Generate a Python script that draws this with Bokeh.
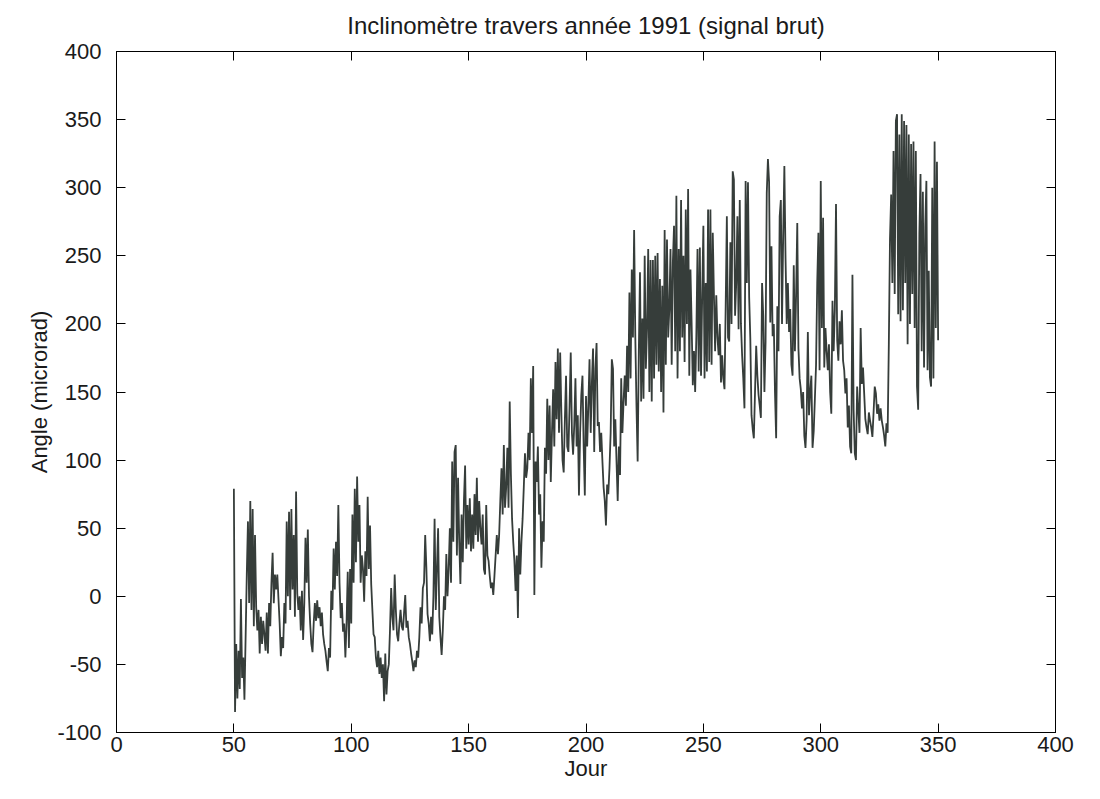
import numpy as np
from bokeh.plotting import figure
from bokeh.models import LinearAxis, FixedTicker, ColumnDataSource, Range1d, PrintfTickFormatter
from bokeh.embed import file_html
from bokeh.resources import INLINE

title_text = "Inclinomètre travers année 1991 (signal brut)"
x_label = "Jour"
y_label = "Angle (microrad)"
x_ticks = [0, 50, 100, 150, 200, 250, 300, 350, 400]
y_ticks = [-100, -50, 0, 50, 100, 150, 200, 250, 300, 350, 400]

# samples every half day, starting at day 50
day_start = 50.0
day_step = 0.5
angle = [
    79, -85, -35, -75, -40, -68, -2, -60, -45, -76,          # 50
    -30, 16, 55, -5, 70, -10, 64, -22, 45, -8,               # 55
    -25, -10, -42, -15, -35, -18, -28, -40, -12, -42,        # 60
    -5, -22, 10, 32, -5, 16, 5, 16, -2, -20,                 # 65
    -44, -30, -38, -5, -20, 55, 0, 62, -10, 64,              # 70
    5, 45, -15, 77, 2, -10, 0, -25, 4, -32,                  # 75
    -5, 43, 10, 49, 0, -20, -35, -41, -20, -5,               # 80
    -18, -3, -16, -8, -22, -12, -28, -35, -40, -48,          # 85
    -55, -38, -45, 4, -10, 35, 5, 40, 15, 67,                # 90
    10, -16, -5, -26, -20, -45, -20, 18, -38, 20,            # 95
    -20, 60, 10, 79, 25, 88, 40, 67, 10, 30,                 # 100
    20, -4, 33, 15, 73, 20, 52, 9, -10, -28,                 # 105
    -30, -45, -52, -40, -57, -45, -60, -50, -77, -42,        # 110
    -72, -55, -50, -25, 6, -15, -25, 16, -10, -28,           # 115
    -33, -20, -10, -22, -25, -12, 1, -23, -18, -30,          # 120
    -35, -42, -48, -55, -47, -52, -40, -45, -30, -8,         # 125
    -20, 6, 10, 45, 21, -13, -20, -33, -15, -28,             # 130
    0, 57, -10, 20, 50, -15, -30, -43, -25, 0,               # 135
    -10, 31, 0, 20, 50, 10, 99, 40, 106, 111,                # 140
    30, 87, 40, 9, 60, 25, 70, 96, 35, 67,                   # 145
    38, 72, 33, 60, 35, 75, 45, 87, 40, 70,                  # 150
    50, 38, 60, 20, 16, 67, 30, 26, 15, 6,                   # 155
    10, 1, 15, 30, 45, 31, 45, 70, 94, 60,                   # 160
    111, 65, 80, 109, 65, 143, 90, 57, 40, 26,               # 165
    4, 30, -16, 50, 16, 40, 57, 80, 105, 87,                 # 170
    94, 120, 100, 160, 120, 169, 1, 99, 84, 110,             # 175
    60, 75, 21, 55, 40, 109, 90, 145, 100, 140,              # 180
    84, 120, 152, 110, 172, 130, 182, 120, 179, 135,         # 185
    100, 91, 130, 162, 110, 106, 140, 179, 120, 104,         # 190
    126, 160, 110, 133, 74, 120, 148, 162, 110, 74,          # 195
    147, 110, 140, 174, 120, 157, 182, 106, 167, 186,        # 200
    125, 128, 106, 120, 99, 80, 70, 52, 82, 75,              # 205
    94, 120, 174, 167, 110, 130, 99, 70, 110, 89,            # 210
    160, 120, 143, 162, 140, 184, 150, 223, 160, 240,        # 215
    190, 269, 191, 140, 99, 180, 238, 143, 204, 145,         # 220
    250, 167, 196, 255, 150, 247, 143, 247, 160, 250,        # 225
    170, 252, 165, 233, 150, 228, 135, 269, 170, 262,        # 230
    190, 211, 255, 170, 245, 272, 180, 294, 160, 255,        # 235
    180, 291, 190, 250, 172, 284, 200, 299, 162, 240,        # 240
    200, 155, 180, 150, 191, 255, 165, 256, 162, 221,        # 245
    272, 160, 230, 165, 284, 172, 284, 170, 267, 221,        # 250
    180, 221, 190, 177, 200, 157, 177, 160, 152, 213,        # 255
    279, 190, 187, 260, 200, 312, 306, 206, 230, 279,        # 260
    196, 291, 200, 177, 160, 138, 305, 230, 304, 220,        # 265
    189, 133, 123, 116, 150, 184, 162, 148, 140, 131,        # 270
    230, 206, 150, 187, 296, 321, 304, 201, 257, 191,        # 275
    200, 150, 116, 213, 180, 279, 291, 200, 265, 316,        # 280
    248, 200, 230, 194, 211, 170, 162, 243, 180, 221,        # 285
    274, 182, 160, 152, 138, 150, 118, 109, 130, 194,        # 290
    133, 150, 162, 109, 121, 145, 170, 230, 267, 166,        # 295
    305, 197, 278, 168, 197, 180, 166, 185, 150, 134,        # 300
    217, 180, 210, 288, 188, 173, 202, 185, 210, 173,        # 305
    166, 149, 160, 124, 140, 110, 105, 236, 137, 105,        # 310
    100, 154, 137, 120, 197, 156, 168, 149, 130, 124,        # 315
    119, 135, 129, 124, 117, 135, 154, 149, 134, 141,        # 320
    129, 138, 129, 124, 118, 110, 127, 120, 185, 263,        # 325
    295, 230, 327, 222, 349, 354, 207, 339, 202, 354,        # 330
    210, 349, 230, 346, 185, 339, 200, 332, 222, 334,        # 335
    197, 327, 154, 137, 266, 310, 180, 297, 168, 271,        # 340
    305, 166, 239, 161, 154, 300, 160, 334, 197, 319,        # 345
    188,                                                      # 350
]

days = day_start + day_step * np.arange(len(angle))
source = ColumnDataSource(data=dict(day=days, angle=angle))

FONT = "Liberation Sans"
TEXT = "#1a1a1a"

p = figure(
    width=1084, height=783,
    x_range=Range1d(x_ticks[0], x_ticks[-1]), y_range=Range1d(y_ticks[0], y_ticks[-1]),
    output_backend="svg", toolbar_location=None,
    min_border_left=116, min_border_right=29,
    min_border_top=51, min_border_bottom=48,
    background_fill_color="white", border_fill_color="white",
)
p.title.text = title_text
p.title.align = "center"
p.title.text_font = FONT
p.title.text_font_size = "24px"
p.title.text_font_style = "normal"
p.title.text_color = TEXT
p.title.vertical_align = "top"
p.title.text_line_height = 1.0
p.title.standoff = 21

p.line("day", "angle", source=source, line_color="#363d3a", line_width=1.8)

p.xgrid.visible = False
p.ygrid.visible = False
p.outline_line_color = "black"
p.outline_line_width = 1

for ax in (p.xaxis[0], p.yaxis[0]):
    ax.major_tick_in = 9
    ax.major_tick_out = 0
    ax.minor_tick_line_color = None
    ax.axis_line_color = "black"
    ax.major_tick_line_color = "black"
    ax.major_label_text_font = FONT
    ax.major_label_text_font_size = "22px"
    ax.major_label_text_color = TEXT
    ax.axis_label_text_font = FONT
    ax.axis_label_text_font_size = "22px"
    ax.axis_label_text_font_style = "normal"
    ax.axis_label_text_color = TEXT

p.xaxis[0].ticker = FixedTicker(ticks=x_ticks)
p.yaxis[0].ticker = FixedTicker(ticks=y_ticks)
p.yaxis[0].formatter = PrintfTickFormatter(format="%d")
p.xaxis[0].axis_label = x_label
p.yaxis[0].axis_label = y_label
p.xaxis[0].major_label_standoff = 4
p.xaxis[0].axis_label_standoff = 1
p.yaxis[0].major_label_standoff = 15
p.yaxis[0].axis_label_standoff = 2

top_ax = LinearAxis(ticker=FixedTicker(ticks=x_ticks))
right_ax = LinearAxis(ticker=FixedTicker(ticks=y_ticks))
for ax in (top_ax, right_ax):
    ax.major_tick_in = 9
    ax.major_tick_out = 0
    ax.minor_tick_line_color = None
    ax.axis_line_color = "black"
    ax.major_tick_line_color = "black"
    ax.major_label_text_color = None
    ax.major_label_text_font_size = "1px"
    ax.major_label_standoff = 0
p.add_layout(top_ax, "above")
p.add_layout(right_ax, "right")

open("out.html", "w").write(file_html(p, INLINE))
